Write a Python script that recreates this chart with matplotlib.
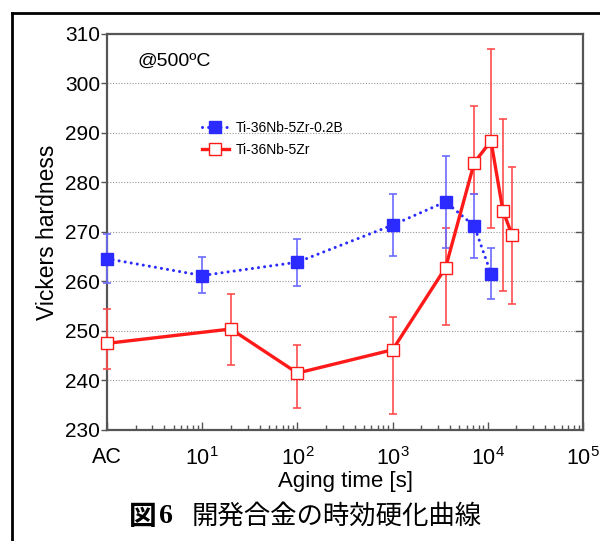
import matplotlib
matplotlib.use("Agg")
import matplotlib.pyplot as plt
from matplotlib.lines import Line2D
from matplotlib.ticker import LogLocator, NullFormatter, FixedLocator
import numpy as np

plt.rcParams['font.family'] = ['Liberation Sans', 'DejaVu Sans']
plt.rcParams['mathtext.fontset'] = 'custom'
plt.rcParams['mathtext.rm'] = 'Liberation Sans'

# aging time in seconds, AC (as cast) plotted at 1 s
time_b = [1, 10, 100, 1000, 3600, 7200, 10800]
hv_b = [264.6, 261.2, 263.9, 271.4, 276.1, 271.2, 261.6]
err_b_lo = [4.9, 3.5, 4.8, 6.2, 9.4, 6.4, 5.2]
err_b_hi = [4.9, 3.7, 4.7, 6.3, 9.3, 6.5, 5.1]

time_r = [1, 20, 100, 1000, 3600, 7200, 10800, 14400, 18000]
hv_r = [247.5, 250.4, 241.5, 246.2, 262.8, 284.0, 288.4, 274.3, 269.4]
err_r_lo = [5.1, 7.2, 7.1, 13.0, 11.6, 6.3, 17.5, 16.2, 13.9]
err_r_hi = [7.0, 7.1, 5.7, 6.6, 8.1, 11.4, 18.6, 18.5, 13.8]

xtick_vals = [1, 10, 100, 1000, 10000, 100000]
xtick_labels = ['AC', r'$\mathregular{10^1}$', r'$\mathregular{10^2}$',
                r'$\mathregular{10^3}$', r'$\mathregular{10^4}$', r'$\mathregular{10^5}$']
label_b = 'Ti-36Nb-5Zr-0.2B'
label_r = 'Ti-36Nb-5Zr'

blue = '#2b2bff'
red = '#ff1a1a'

fig = plt.figure(figsize=(6.0, 5.41), dpi=100)
ax = fig.add_axes([0.1783, 0.2052, 0.7934, 0.732])

# error bars first, then lines
er = ax.errorbar(time_r, hv_r, yerr=[err_r_lo, err_r_hi], fmt='none', ecolor='#ff4d4d',
                 elinewidth=1.2, capsize=3, capthick=1.2, zorder=3)
eb = ax.errorbar(time_b, hv_b, yerr=[err_b_lo, err_b_hi], fmt='none', ecolor='#6b6bff',
                 elinewidth=1.2, capsize=3, capthick=1.2, zorder=3)
for cont in (eb, er):
    for art in cont.lines[1] + cont.lines[2]:
        art.set_clip_on(False)

lb, = ax.plot(time_b, hv_b, color=blue, linestyle=(0, (0.01, 2.0)), linewidth=2.2,
              dash_capstyle='round', marker='s', markersize=8, markerfacecolor=blue,
              markeredgecolor=blue, label=label_b, zorder=4, clip_on=False)
lr, = ax.plot(time_r, hv_r, color=red, linestyle='-', linewidth=2.4,
              marker='s', markersize=9, markerfacecolor='white',
              markeredgecolor=red, markeredgewidth=1.0, label=label_r, zorder=5,
              clip_on=False)

ax.set_xscale('log')
ax.set_xlim(1, 1e5)
ax.set_ylim(230, 310)
ax.xaxis.set_major_locator(FixedLocator(xtick_vals))
ax.set_xticklabels(xtick_labels)
ax.xaxis.set_minor_locator(LogLocator(base=10, subs=np.arange(2, 10)))
ax.xaxis.set_minor_formatter(NullFormatter())
ax.set_yticks(np.arange(230, 311, 10))

ax.yaxis.grid(True, color='#999999', linestyle=(0, (1, 1.5)), linewidth=0.8)
ax.set_axisbelow(True)

ax.tick_params(axis='y', which='major', direction='out', length=4, width=1,
               color='#555555', labelsize=15, pad=1, left=True, right=False)
ax.tick_params(axis='x', which='major', direction='in', length=6, width=1,
               color='#555555', labelsize=15.5, pad=12, top=False)
ax.tick_params(axis='x', which='minor', direction='in', length=3.5, width=1,
               color='#555555', top=False)
for s in ax.spines.values():
    s.set_color('#555555')
    s.set_linewidth(1.6)

# inward ticks on the right side
for yv in np.arange(240, 310, 10):
    ax.plot([0.985, 1.0], [yv, yv], transform=ax.get_yaxis_transform(),
            color='#555555', linewidth=1, clip_on=False)

ax.set_xlabel('Aging time [s]', fontsize=16, labelpad=1)
ax.set_ylabel('Vickers hardness', fontsize=16.5, labelpad=4)

ax.text(0.065, 0.93, '@500ºC', transform=ax.transAxes, fontsize=14,
        ha='left', va='center')

ax.legend(handles=[lb, lr], loc='upper left', bbox_to_anchor=(0.2, 0.78),
          frameon=False, fontsize=10, handlelength=1.9, handletextpad=0.5,
          labelspacing=0.55, borderpad=0, borderaxespad=0)

# caption
fig.text(0.215, 0.045, '図', fontsize=20, fontweight='bold',
         family=['Noto Sans CJK JP'], ha='left', va='center')
fig.text(0.265, 0.045, '6', fontsize=20, fontweight='bold',
         family=['Liberation Serif'], ha='left', va='center')
fig.text(0.32, 0.045, '開発合金の時効硬化曲線', fontsize=19,
         family=['Noto Sans CJK JP'], ha='left', va='center')

# outer frame of the original figure box
fig.add_artist(Line2D([12 / 600, 12 / 600], [0, 1 - 13 / 541], transform=fig.transFigure,
                      color='black', linewidth=2))
fig.add_artist(Line2D([12 / 600, 1], [1 - 13 / 541, 1 - 13 / 541], transform=fig.transFigure,
                      color='black', linewidth=2))

fig.savefig('out.png', dpi=100)
